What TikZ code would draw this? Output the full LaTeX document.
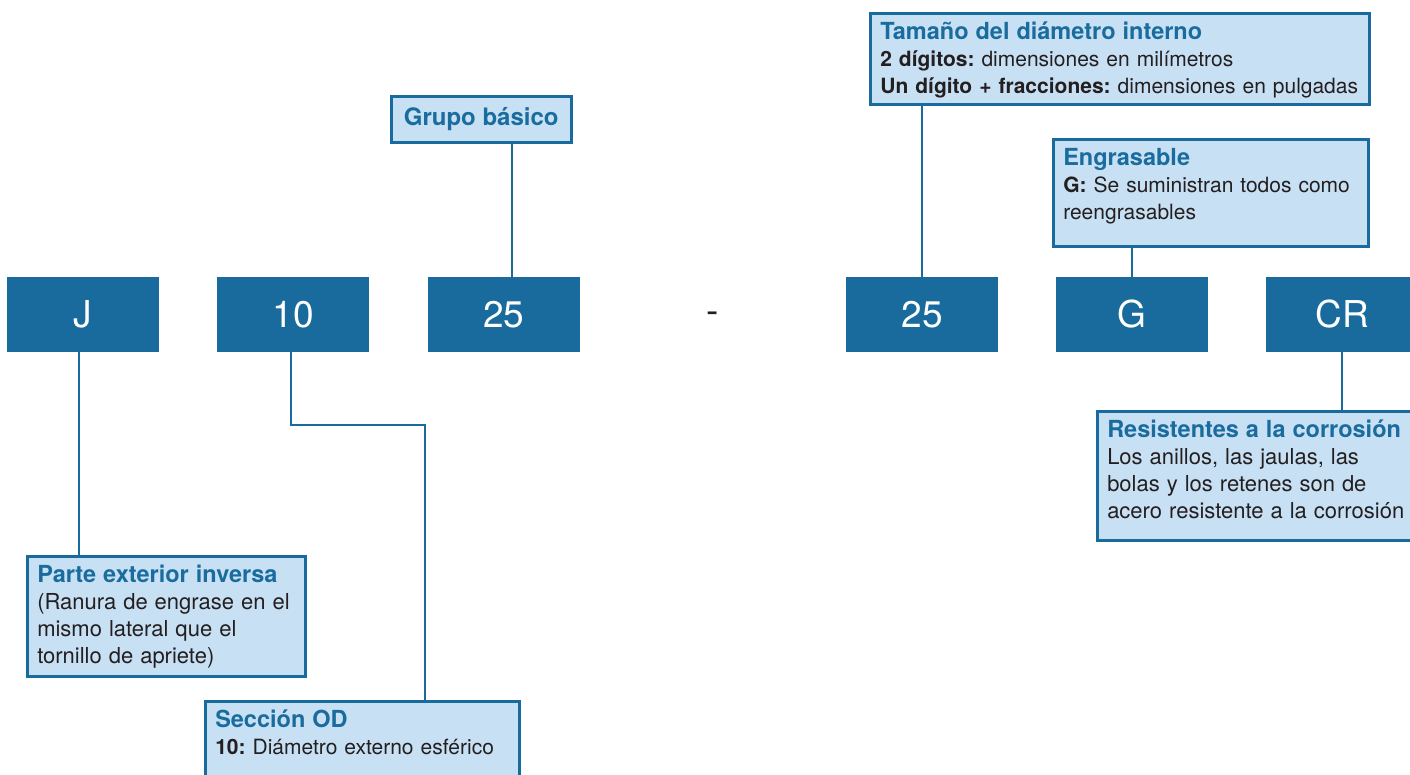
\documentclass[tikz,border=0pt]{standalone}
\usepackage{fontspec}
\setmainfont{TeX Gyre Heros}
\usetikzlibrary{positioning, calc}
\definecolor{codeblue}{RGB}{24,107,156}
\definecolor{notefill}{RGB}{200,224,244}
\definecolor{titleblue}{RGB}{26,108,158}
\definecolor{textdark}{RGB}{35,31,32}
\newcommand\notetitle[1]{{\color{titleblue}\bfseries\fontsize{23.5}{27}\selectfont\rule{0pt}{26pt}#1}}
\newcommand\notegap[1]{\rule[-#1]{0pt}{#1}}
\frenchspacing
\tikzset{
  code/.style={rectangle, fill=codeblue, text=white, minimum width=152pt,
    minimum height=75pt, inner sep=0pt, font=\fontsize{37}{37}\selectfont},
  note/.style={rectangle, draw=codeblue, fill=notefill, line width=2.5pt,
    anchor=north west, inner xsep=10pt, inner ysep=0pt, align=left,
    text=textdark, font=\fontsize{21}{27}\selectfont},
  link/.style={draw=codeblue, line width=2pt}
}
\begin{document}
\begin{tikzpicture}[x=1pt, y=-1pt]
  \useasboundingbox (0,0) rectangle (1410,774);

  % designation row
  \node[code] (c1) at (83,314.5) {J};
  \node[code, right=58pt of c1] (c2) {10};
  \node[code, right=58pt of c2] (c3) {25};
  \node[code, right=266pt of c3] (c5) {25};
  \node[code, right=57pt of c5] (c6) {G};
  \node[code, right=58pt of c6] (c7) {CR};
  \node[text=textdark, font=\fontsize{37}{37}\selectfont] (hy) at ($(c3.east)!0.5!(c5.west)+(0,3)$) {-};

  % notes
  \node[note, minimum width=180pt, minimum height=46pt, align=center, text=titleblue,
    font=\bfseries\fontsize{24}{27}\selectfont] (grp) at (390,95) {Grupo básico};
  \node[note, text width=479pt] (tam) at (869,12) {\notetitle{Tamaño del diámetro interno}\\
    \textbf{2 dígitos:} dimensiones en milímetros\\
    \textbf{Un dígito + fracciones:} dimensiones en pulgadas\notegap{11pt}};
  \node[note, text width=295pt] (eng) at (1052,138) {\notetitle{Engrasable}\\
    \textbf{G:} Se suministran todos como\\
    reengrasables\notegap{27pt}};
  \node[note, text width=300pt] (res) at (1096,410) {\notetitle{Resistentes a la corrosión}\\
    \fontsize{22}{27}\selectfont Los anillos, las jaulas, las\\
    bolas y los retenes son de\\
    acero resistente a la corrosión\notegap{22pt}};
  \node[note, text width=258pt] (par) at (26,555) {\notetitle{Parte exterior inversa}\\
    \fontsize{22}{27}\selectfont (Ranura de engrase en el\\
    mismo lateral que el\\
    tornillo de apriete)\notegap{13pt}};
  \node[note, text width=294pt] (sec) at (204,700) {\notetitle{Sección OD}\\
    \textbf{10:} Diámetro externo esférico\notegap{30pt}};

  % leaders
  \coordinate (bend) at (425,425);
  \draw[link] ([xshift=-4pt]c1.south) -- ([xshift=-4pt]c1.south |- par.north);
  \draw[link] ([xshift=-2pt]c2.south) |- (bend) -- (bend |- sec.north);
  \draw[link] ([xshift=8pt]c3.north) -- ([xshift=8pt]c3.north |- grp.south);
  \draw[link] (c5.north) -- (c5.north |- tam.south);
  \draw[link] (c6.north) -- (c6.north |- eng.south);
  \draw[link] (c7.south) -- (c7.south |- res.north);
\end{tikzpicture}
\end{document}
